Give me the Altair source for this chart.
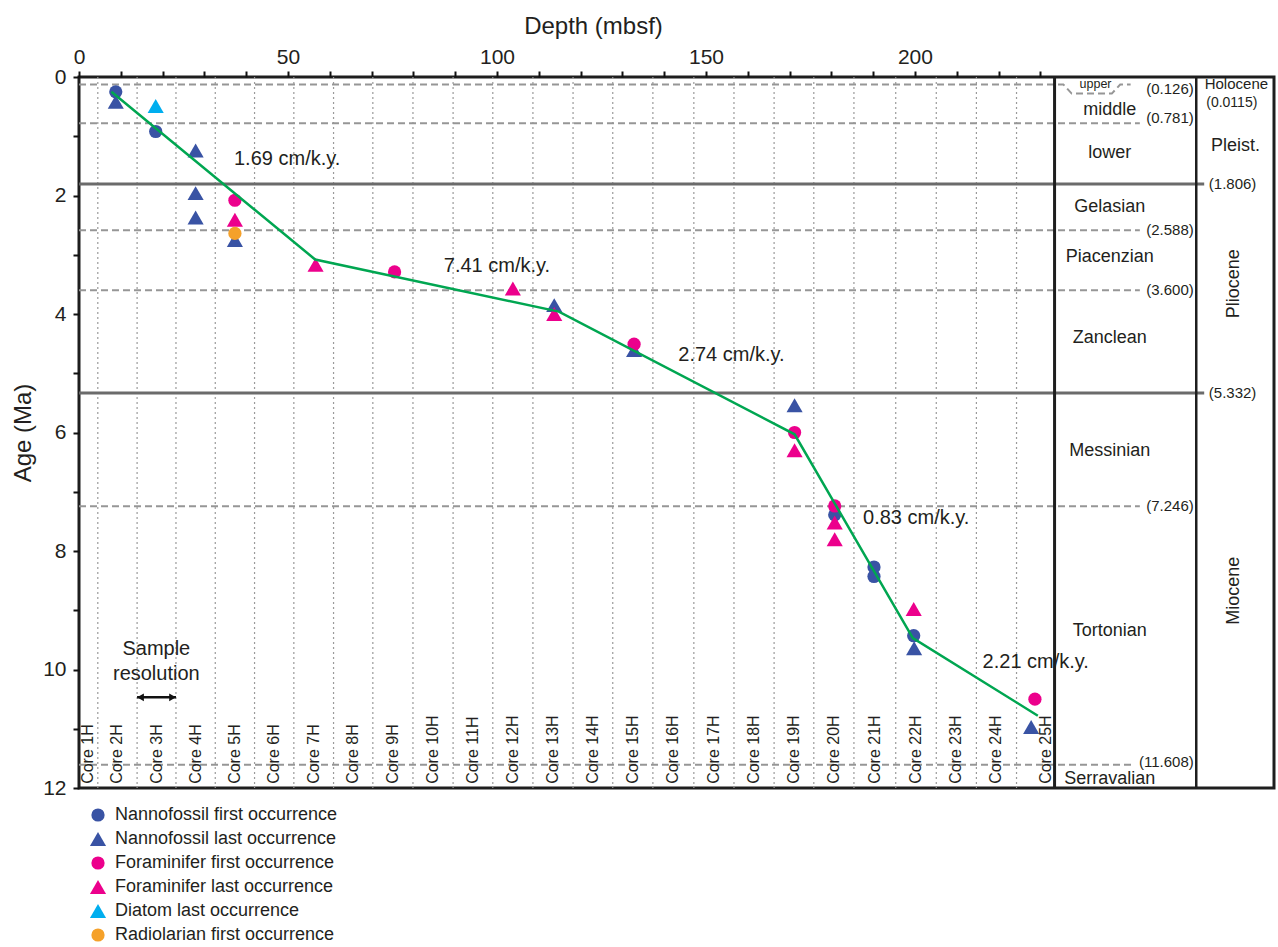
import altair as alt
import pandas as pd

FONT = "Liberation Sans"
INK = "#231f20"

# ---------------- data (depth in mbsf, age in Ma) ----------------
series_names = [
    "Nannofossil first occurrence",
    "Nannofossil last occurrence",
    "Foraminifer first occurrence",
    "Foraminifer last occurrence",
    "Diatom last occurrence",
    "Radiolarian first occurrence",
]
series_colors = ["#3953a4", "#3953a4", "#ec008c", "#ec008c", "#00aeef", "#f5a12a"]
series_shapes = ["circle", "triangle-up", "circle", "triangle-up", "triangle-up", "circle"]
series_sizes = [175, 260, 175, 260, 260, 175]

nanno_fo_depth = [8.8, 18.35, 180.8, 190.2, 190.2, 199.7]
nanno_fo_age = [0.25, 0.92, 7.39, 8.27, 8.43, 9.43]
nanno_lo_depth = [8.8, 27.9, 27.9, 27.9, 37.3, 113.7, 132.8, 171.2, 199.8, 227.8]
nanno_lo_age = [0.42, 1.24, 1.96, 2.37, 2.75, 3.85, 4.61, 5.54, 9.64, 10.97]
foram_fo_depth = [37.3, 75.5, 132.8, 171.2, 180.8, 228.7]
foram_fo_age = [2.08, 3.29, 4.51, 6.00, 7.24, 10.50]
foram_lo_depth = [37.3, 56.6, 103.8, 113.7, 171.2, 180.8, 180.8, 199.7]
foram_lo_age = [2.41, 3.17, 3.57, 4.00, 6.30, 7.52, 7.80, 8.98]
diatom_lo_depth = [18.35]
diatom_lo_age = [0.49]
radio_fo_depth = [37.3]
radio_fo_age = [2.64]

model_depth = [7.75, 56.5, 114.8, 171.2, 199.5, 229.4]
model_age = [0.25, 3.08, 3.96, 6.03, 9.47, 10.78]

rate_labels = ["1.69 cm/k.y.", "7.41 cm/k.y.", "2.74 cm/k.y.", "0.83 cm/k.y.", "2.21 cm/k.y."]
rate_depth = [49.8, 100.0, 156.1, 200.3, 228.9]
rate_age = [1.38, 3.19, 4.69, 7.45, 9.87]

core_names = [f"Core {i}H" for i in range(1, 26)]
core_boundaries = [4.5, 13.9, 23.2, 32.6, 42.0, 51.4, 60.9, 70.3, 79.9, 89.5, 99.0, 108.6,
                   118.2, 127.7, 137.3, 147.1, 156.7, 166.3, 175.8, 185.4, 195.4, 205.1,
                   214.7, 224.3]
core_25_base = 238.3

stage_bound_age = [0.781, 2.588, 3.600, 7.246, 11.608]      # dashed
epoch_bound_age = [1.806, 5.332]                              # solid
upper_bound_age = 0.126
holocene_age_label = "(0.0115)"

stage_names = ["middle", "lower", "Gelasian", "Piacenzian", "Zanclean",
               "Messinian", "Tortonian", "Serravalian"]
stage_name_age = [0.557, 1.283, 2.19, 3.03, 4.40, 6.32, 9.35, 11.84]

# ---------------- layout constants ----------------
X_MAX = 285.9
PLOT_RIGHT = 233.4
EPOCH_LEFT = 267.3
STAGE_X = 246.6
EPOCH_X = 276.4
DASH_END = [253.8, 253.8, 253.8, 253.8, 251.8]
DASH_LABEL_X = 266.7
SOLID_END = 269.2
SOLID_LABEL_X = 270.3
CORE_LABEL_AGE = 11.93
ARROW_AGE = 10.47

xs = alt.Scale(domain=[0, X_MAX], nice=False, zero=False)
ys = alt.Scale(domain=[0, 12], reverse=True, nice=False, zero=False)

x_axis = alt.Axis(orient="top", values=list(range(0, 231, 10)),
                  labelExpr="datum.value % 50 === 0 ? datum.label : ''",
                  title="Depth (mbsf)", titleFontSize=24, titleX=514, titleY=-44,
                  titleBaseline="alphabetic", titleAlign="center",
                  labelPadding=4, labelFlush=False, labelOverlap=False)
y_axis = alt.Axis(values=list(range(0, 13)),
                  labelExpr="datum.value % 2 === 0 ? datum.label : ''",
                  title="Age (Ma)", titleFontSize=24, titleAngle=270, titleX=-49, titleY=355.5,
                  titleAlign="center", titleBaseline="alphabetic",
                  labelPadding=7, labelFlush=False, labelOverlap=False)


def X(f):
    return alt.X(f, type="quantitative", scale=xs, axis=x_axis)


def Y(f):
    return alt.Y(f, type="quantitative", scale=ys, axis=y_axis)


# ---------------- tables ----------------
dep_lists = [nanno_fo_depth, nanno_lo_depth, foram_fo_depth, foram_lo_depth, diatom_lo_depth, radio_fo_depth]
age_lists = [nanno_fo_age, nanno_lo_age, foram_fo_age, foram_lo_age, diatom_lo_age, radio_fo_age]
pts = pd.concat(
    [pd.DataFrame({"depth": d, "age": a, "series": s}) for s, d, a in zip(series_names, dep_lists, age_lists)],
    ignore_index=True,
)
model = pd.DataFrame({"depth": model_depth, "age": model_age, "i": range(len(model_age))})
rates = pd.DataFrame({"depth": rate_depth, "age": rate_age, "t": rate_labels})
grid = pd.DataFrame({"depth": core_boundaries})
edges = [0] + core_boundaries + [core_25_base]
cores = pd.DataFrame({"depth": [(edges[i] + edges[i + 1]) / 2 for i in range(25)],
                      "age": CORE_LABEL_AGE, "t": core_names})

dashed = pd.DataFrame({"x0": 0, "x1": DASH_END, "age": stage_bound_age})
solid = pd.DataFrame({"x0": 0, "x1": SOLID_END, "age": epoch_bound_age})
upper_path = pd.DataFrame({
    "depth": [0, 235.5, 237.5, 247.1, 249.1, 251.6],
    "age": [upper_bound_age, upper_bound_age, 0.28, 0.28, upper_bound_age, upper_bound_age],
    "i": range(6),
})
dash_lbl_age = list(stage_bound_age)
dash_lbl_age[0] = 0.69
dash_lbl_age[-1] = 11.56
dash_labels = pd.DataFrame({"depth": DASH_LABEL_X,
                            "age": [0.21] + dash_lbl_age,
                            "t": [f"({upper_bound_age:.3f})"] + [f"({a:.3f})" for a in stage_bound_age]})
solid_labels = pd.DataFrame({"depth": SOLID_LABEL_X, "age": epoch_bound_age,
                             "t": [f"({a:.3f})" for a in epoch_bound_age]})
dividers = pd.DataFrame({"depth": [PLOT_RIGHT]})
dividers2 = pd.DataFrame({"depth": [EPOCH_LEFT]})
stages = pd.DataFrame({"depth": STAGE_X, "age": stage_name_age, "t": stage_names})

# ---------------- layers ----------------
grid_l = alt.Chart(grid).mark_rule(color="#9a9a9a", strokeDash=[2, 3], strokeWidth=1.2).encode(x=X("depth"))
dash_l = alt.Chart(dashed).mark_rule(color="#969696", strokeDash=[7, 4], strokeWidth=2).encode(
    x=X("x0"), x2="x1", y=Y("age"))
upper_l = alt.Chart(upper_path).mark_line(color="#969696", strokeDash=[7, 4], strokeWidth=2).encode(
    x=X("depth"), y=Y("age"), order="i:Q")
solid_l = alt.Chart(solid).mark_rule(color="#6b6b6b", strokeWidth=3).encode(x=X("x0"), x2="x1", y=Y("age"))
div_l = alt.Chart(dividers).mark_rule(color="#1e1e1e", strokeWidth=3).encode(x=X("depth"))
div2_l = alt.Chart(dividers2).mark_rule(color="#1e1e1e", strokeWidth=2.5).encode(x=X("depth"))

leg = alt.Legend(orient="none", legendX=10, legendY=729, direction="vertical", title=None,
                 labelFontSize=18, labelColor=INK, rowPadding=6, labelOffset=8,
                 symbolStrokeWidth=0, padding=0, labelLimit=400)
pts_l = alt.Chart(pts).mark_point(filled=True, opacity=1, strokeWidth=0).encode(
    x=X("depth"),
    y=Y("age"),
    color=alt.Color("series:N", scale=alt.Scale(domain=series_names, range=series_colors), legend=leg),
    shape=alt.Shape("series:N", scale=alt.Scale(domain=series_names, range=series_shapes), legend=leg),
    size=alt.Size("series:N", scale=alt.Scale(type="ordinal", domain=series_names, range=series_sizes),
                  legend=leg),
)
model_l = alt.Chart(model).mark_line(color="#00a651", strokeWidth=2.5).encode(
    x=X("depth"), y=Y("age"), order="i:Q")


def text_layer(df, size, **mk):
    mk.setdefault("align", "center")
    mk.setdefault("baseline", "middle")
    return alt.Chart(df).mark_text(fontSize=size, color=INK, font=FONT, **mk).encode(
        x=X("depth"), y=Y("age"), text="t:N")


rates_l = text_layer(rates, 20)
cores_l = text_layer(cores, 16, angle=270, align="left")
stages_l = text_layer(stages, 18)
upper_t = text_layer(pd.DataFrame({"depth": [243.2], "age": [0.118], "t": ["upper"]}), 12.5)
dash_t = text_layer(dash_labels, 15, align="right")
solid_t = text_layer(solid_labels, 15, align="left")
holo_t = text_layer(pd.DataFrame({"depth": [276.9], "age": [0.118], "t": ["Holocene"]}), 15)
holo2_t = text_layer(pd.DataFrame({"depth": [275.8], "age": [0.44], "t": [holocene_age_label]}), 14)
pleist_t = text_layer(pd.DataFrame({"depth": [276.7], "age": [1.165], "t": ["Pleist."]}), 18)
epochs_t = text_layer(pd.DataFrame({"depth": [EPOCH_X, EPOCH_X], "age": [3.49, 8.67],
                                    "t": ["Pliocene", "Miocene"]}), 18, angle=270)
sample_t = text_layer(pd.DataFrame({"depth": [18.5, 18.5], "age": [9.65, 10.08],
                                    "t": ["Sample", "resolution"]}), 20)

arrow_df = pd.DataFrame({"x0": [core_boundaries[1]], "x1": [core_boundaries[2]], "age": [ARROW_AGE]})
arrow_l = alt.Chart(arrow_df).mark_rule(color="#111", strokeWidth=2.5).encode(
    x=X("x0"), x2="x1", y=Y("age"))
head_l = alt.Chart(arrow_df).mark_point(shape="triangle-left", filled=True, opacity=1, size=60,
                                        color="#111", xOffset=3.4).encode(x=X("x0"), y=Y("age"))
head_r = alt.Chart(arrow_df).mark_point(shape="triangle-right", filled=True, opacity=1, size=60,
                                        color="#111", xOffset=-3.4).encode(x=X("x1"), y=Y("age"))

chart = alt.layer(
    grid_l, dash_l, upper_l, solid_l, div_l, div2_l,
    pts_l, model_l,
    rates_l, cores_l, stages_l, upper_t, dash_t, solid_t, holo_t, holo2_t, pleist_t, epochs_t,
    sample_t, arrow_l, head_l, head_r,
).properties(
    width=1195, height=711,
    autosize=alt.AutoSizeParams(type="none"),
    padding={"left": 79, "top": 77, "right": 4, "bottom": 159},
).configure(
    font=FONT,
).configure_view(
    stroke="#1e1e1e", strokeWidth=3,
).configure_axis(
    domain=False, grid=False, tickColor="#111", tickWidth=2, tickSize=6,
    labelColor=INK, labelFontSize=21, labelFont=FONT,
    titleColor=INK, titleFontWeight="normal", titleFont=FONT,
)

chart.save("out.html", embed_options={"renderer": "svg", "actions": False})
